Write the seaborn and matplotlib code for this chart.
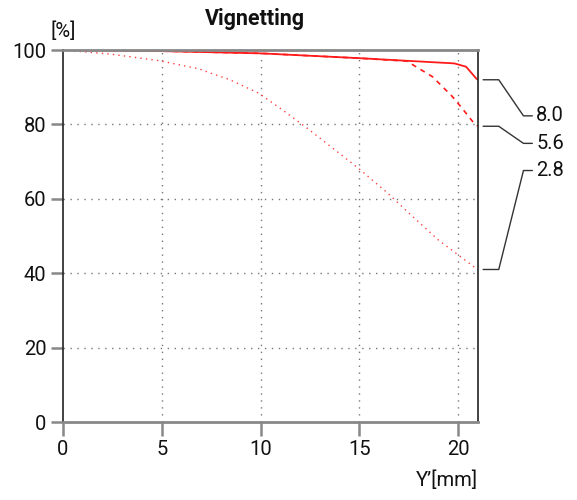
import numpy as np
import pandas as pd
import matplotlib
matplotlib.use("Agg")
import matplotlib.pyplot as plt
import seaborn as sns

# ---- data ----
x_f80 = [0, 5, 10, 15, 17.4, 19.8, 20.4, 20.9, 21.0]
y_f80 = [100, 99.7, 99.1, 97.8, 97.1, 96.4, 95.5, 92.4, 92.0]

x_f56 = [0, 5, 10, 15, 17.4, 18.7, 19.7, 20.2, 20.8, 21.0]
y_f56 = [100, 99.7, 99.1, 97.8, 97.0, 92.8, 87.5, 84.3, 80.3, 79.5]

x_f28 = [0, 2.4, 4.9, 6.9, 7.4, 8.4, 9.9, 11.0, 12.3, 13.65, 14.95, 16.35, 17.7, 19.0, 20.0, 20.9, 21.0]
y_f28 = [100, 98.9, 97.1, 94.9, 93.9, 92.1, 88.4, 84.3, 79.2, 73.6, 68.2, 61.9, 55.2, 48.9, 44.9, 41.3, 41.0]

series_labels = ["8.0", "5.6", "2.8"]
label_y = [82.3, 74.9, 67.6]

x_ticks = [0, 5, 10, 15, 20]
y_ticks = [0, 20, 40, 60, 80, 100]

title = "Vignetting"
x_label = "Y’[mm]"
y_unit = "[%]"

# ---- style ----
sns.set_theme(style="white")
plt.rcParams["font.family"] = ["Roboto", "DejaVu Sans"]

fig = plt.figure(figsize=(5.77, 5.00), dpi=100)
ax = fig.add_axes([63 / 577, 78 / 500, (478 - 63) / 577, (422 - 50) / 500])

red = "#ff1a1a"
sns.lineplot(x=x_f80, y=y_f80, ax=ax, color=red, linewidth=1.3, linestyle="-")
sns.lineplot(x=x_f56, y=y_f56, ax=ax, color=red, linewidth=1.2, linestyle=(0, (3, 3)))
sns.lineplot(x=x_f28, y=y_f28, ax=ax, color="#ff4040", linewidth=1.0, linestyle=(0, (1, 3)))

ax.set_xlim(0, 21)
ax.set_ylim(0, 100)
ax.set_xticks(x_ticks)
ax.set_yticks(y_ticks)
ax.set_xticklabels([str(v) for v in x_ticks])
ax.set_yticklabels([str(v) for v in y_ticks])

for xv in x_ticks[1:]:
    ax.axvline(xv, color="#777777", linewidth=1.0, linestyle=(0, (1, 4)), zorder=0)
for yv in y_ticks[1:-1]:
    ax.axhline(yv, color="#777777", linewidth=1.0, linestyle=(0, (1, 4)), zorder=0)

for side in ["left", "right"]:
    ax.spines[side].set_color("#222222")
    ax.spines[side].set_linewidth(1.2)
for side in ["top", "bottom"]:
    ax.spines[side].set_color("#888888")
    ax.spines[side].set_linewidth(2.0)

ax.tick_params(axis="y", direction="out", length=9, width=1.8, color="#888888",
               labelsize=14.5, pad=3, left=True, labelcolor="#111111")
ax.tick_params(axis="x", direction="out", length=10, width=1.8, color="#888888",
               labelsize=14.5, pad=3, bottom=True, labelcolor="#111111")
ax.set_xlabel("")
ax.set_ylabel("")

fig.text(255 / 577, 1 - 25 / 500, title, fontsize=15.5, fontweight="bold",
         ha="center", va="baseline", color="#111111")
fig.text(50 / 577, 1 - 31 / 500, y_unit, fontsize=14.5, ha="left", va="center", color="#111111")
fig.text(478 / 577, 1 - 480 / 500, x_label, fontsize=14.5, ha="right", va="center", color="#111111")

# leader lines and series labels
ends = [y_f80[-1], y_f56[-1], y_f28[-1]]
x0, x1, x2, x3 = 21.26, 22.05, 23.3, 23.75
for lab, ye, yl in zip(series_labels, ends, label_y):
    ax.plot([x0, x1, x2, x3], [ye, ye, yl, yl], color="#333333", linewidth=1.0, clip_on=False)
    ax.text(x3 + 0.2, yl, lab, fontsize=14.5, ha="left", va="center", color="#111111", clip_on=False)

fig.savefig("out.png", dpi=100)
